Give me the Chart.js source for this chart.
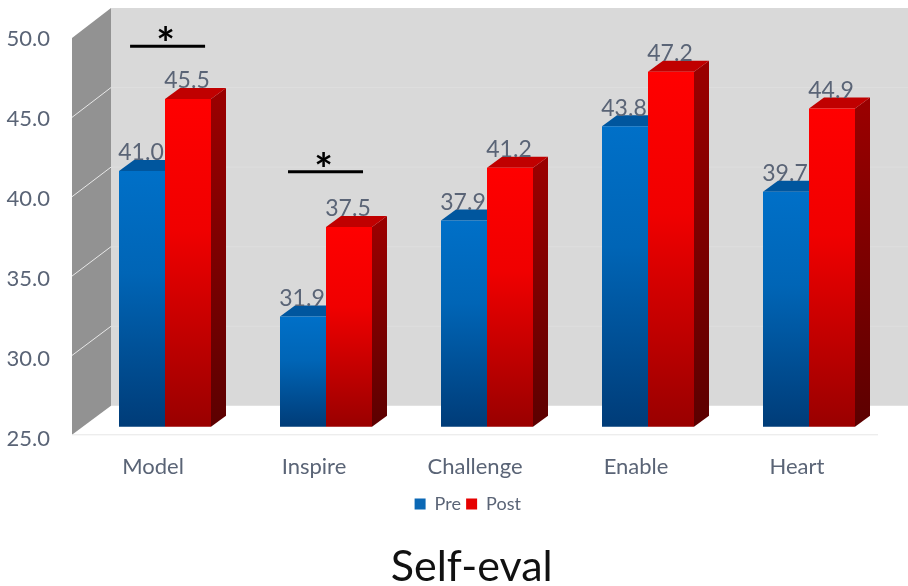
<!DOCTYPE html>
<html>
<head>
<meta charset="utf-8">
<title>Self-eval</title>
<style>
  html, body { margin: 0; padding: 0; background: #fff; }
  canvas { display: block; }
</style>
<script src="https://cdn.jsdelivr.net/npm/chart.js@4"></script>
</head>
<body>
<canvas id="selfEval" width="908" height="586"></canvas>
<script>
const categories = ["Model", "Inspire", "Challenge", "Enable", "Heart"];
const preValues = [41.0, 31.9, 37.9, 43.8, 39.7];
const postValues = [45.5, 37.5, 41.2, 47.2, 44.9];
const yTicks = [25, 30, 35, 40, 45, 50];
// significance markers: position along the category axis and height on the value axis
const sigPositions = [0.016, 0.997];
const sigLevels = [48.8, 40.95];

const textColor = "#5a6476";
const fontName = "Lato, 'Open Sans', sans-serif";

// depth of the bars and of the chart box
const barDx = 15, barDy = 11;
const wallFrontX = 72, wallBackX = 111;

const colors = {
  pre: { legend: "#0b68b5", top: "#00569e", front: ["#0070c8", "#0065b6", "#003c78"], side: "#00487f", sideEnd: "#002a55" },
  post: { legend: "#e60000", top: "#c00000", front: ["#ff0000", "#f00000", "#990000"], side: "#990000", sideEnd: "#5c0000" },
};

function barFill(palette) {
  return function (ctx) {
    const y = ctx.chart.scales.y;
    // first pass runs before layout, there is no pixel to start a gradient from yet
    if (ctx.type !== "data" || !y) return palette.legend;
    const top = y.getPixelForValue(ctx.raw);
    if (!isFinite(top) || !isFinite(y.bottom)) return palette.legend;
    const g = ctx.chart.ctx.createLinearGradient(0, top, 0, y.bottom);
    g.addColorStop(0, palette.front[0]);
    g.addColorStop(0.4, palette.front[1]);
    g.addColorStop(1, palette.front[2]);
    return g;
  };
}

function poly(ctx, pts, fill) {
  ctx.beginPath();
  pts.forEach((p, i) => (i ? ctx.lineTo(p[0], p[1]) : ctx.moveTo(p[0], p[1])));
  ctx.closePath();
  ctx.fillStyle = fill;
  ctx.fill();
}

// walls sit a little off the value scale: front plane lower, back plane higher
function frontY(y, p) {
  return p + 8 + (3 * (y.bottom - p)) / (y.bottom - y.top);
}
function backY(y, p) {
  return p - 21 + (2 * (y.bottom - p)) / (y.bottom - y.top);
}

const boxPlugin = {
  id: "box3d",
  afterLayout(chart) {
    // legend and title are centred on the plot floor, not on the canvas
    chart.legend.left += 23;
    chart.legend.right += 23;
    chart.legend.top += 4;
    chart.legend.bottom += 4;
    chart.titleBlock.left += 27;
    chart.titleBlock.right += 27;
  },
  beforeDatasetsDraw(chart) {
    const { ctx, width, scales: { y } } = chart;
    const pBottom = y.getPixelForValue(yTicks[0]);
    const pTop = y.getPixelForValue(yTicks[yTicks.length - 1]);
    ctx.save();
    // back wall
    poly(ctx, [[wallBackX, backY(y, pTop)], [width, backY(y, pTop)], [width, backY(y, pBottom)], [wallBackX, backY(y, pBottom)]], "#d9d9d9");
    // left wall
    poly(ctx, [[wallFrontX, frontY(y, pTop)], [wallBackX, backY(y, pTop)], [wallBackX, backY(y, pBottom)], [wallFrontX, frontY(y, pBottom)]], "#929292");
    // grid lines run along both walls
    ctx.lineWidth = 1;
    yTicks.slice(1, -1).forEach((v) => {
      const p = y.getPixelForValue(v);
      ctx.strokeStyle = "#dedede";
      ctx.beginPath();
      ctx.moveTo(wallBackX, backY(y, p));
      ctx.lineTo(width, backY(y, p));
      ctx.stroke();
      ctx.strokeStyle = "#e8e8e8";
      ctx.beginPath();
      ctx.moveTo(wallFrontX, frontY(y, p));
      ctx.lineTo(wallBackX, backY(y, p));
      ctx.stroke();
    });
    // floor front edge
    ctx.strokeStyle = "#e6e6e6";
    ctx.beginPath();
    ctx.moveTo(wallFrontX, frontY(y, pBottom));
    ctx.lineTo(878, frontY(y, pBottom));
    ctx.stroke();
    ctx.restore();
  },
  beforeDatasetDraw(chart, args) {
    const { ctx, scales: { y } } = chart;
    const isPre = args.index === 0;
    const palette = isPre ? colors.pre : colors.post;
    const floor = y.bottom;
    ctx.save();
    chart.getDatasetMeta(args.index).data.forEach((bar) => {
      const left = bar.x - bar.width / 2, right = bar.x + bar.width / 2;
      // Post draws first, so the Pre side face would land on top of it
      if (!isPre) {
        const side = ctx.createLinearGradient(0, bar.y, 0, floor);
        side.addColorStop(0, palette.side);
        side.addColorStop(1, palette.sideEnd);
        poly(ctx, [[right, bar.y], [right + barDx, bar.y - barDy], [right + barDx, floor - barDy], [right, floor]], side);
      }
      const topRight = isPre ? right : right + barDx;
      poly(ctx, [[left, bar.y], [left + barDx, bar.y - barDy], [topRight, bar.y - barDy], [right, bar.y]], palette.top);
    });
    ctx.restore();
  },
  afterDatasetDraw(chart, args) {
    const { ctx, chartArea } = chart;
    const isPre = args.index === 0;
    const values = chart.data.datasets[args.index].data;
    ctx.fillStyle = textColor;
    ctx.font = "23px " + fontName;
    ctx.textAlign = "center";
    ctx.textBaseline = "middle";
    chart.getDatasetMeta(args.index).data.forEach((bar, i) => {
      ctx.save();
      if (isPre) {
        // the neighbouring Post bar hides the end of the label
        ctx.beginPath();
        ctx.rect(chartArea.left, 0, bar.x + bar.width / 2 - chartArea.left, chart.height);
        ctx.clip();
      }
      ctx.fillText(values[i].toFixed(1), bar.x - 1, bar.y - 18);
      ctx.restore();
    });
  },
  afterDatasetsDraw(chart) {
    const { ctx, scales: { x, y } } = chart;
    ctx.save();
    sigPositions.forEach((pos, i) => {
      const cx = x.getPixelForValue(pos);
      const py = y.getPixelForValue(sigLevels[i]);
      ctx.strokeStyle = "#000";
      ctx.lineWidth = 3;
      ctx.beginPath();
      ctx.moveTo(cx - 37.5, py);
      ctx.lineTo(cx + 37.5, py);
      ctx.stroke();
      ctx.fillStyle = "#000";
      ctx.font = "bold 44px " + fontName;
      ctx.textAlign = "center";
      ctx.textBaseline = "middle";
      ctx.fillText("*", cx - 2, py - 1);
    });
    ctx.restore();
  },
};

new Chart(document.getElementById("selfEval"), {
  type: "bar",
  data: {
    labels: categories,
    datasets: [
      { label: "Pre", data: preValues, backgroundColor: barFill(colors.pre) },
      { label: "Post", data: postValues, backgroundColor: barFill(colors.post) },
    ],
  },
  plugins: [boxPlugin],
  options: {
    responsive: false,
    animation: false,
    events: [],
    layout: { padding: { left: 0, right: 18.5, top: 27, bottom: 0 } },
    datasets: { bar: { categoryPercentage: 92 / 161, barPercentage: 1, borderWidth: 0 } },
    scales: {
      x: {
        grid: { display: false },
        border: { display: false },
        ticks: {
          color: textColor,
          font: { family: fontName, size: 22 },
          padding: 19,
          labelOffset: -12,
          maxRotation: 0,
        },
        afterFit(scale) { scale.height = 59; },
      },
      y: {
        min: yTicks[0],
        max: yTicks[yTicks.length - 1],
        grid: { display: false },
        border: { display: false },
        afterBuildTicks(scale) { scale.ticks = yTicks.map((v) => ({ value: v })); },
        ticks: {
          color: textColor,
          font: { family: fontName, size: 22 },
          padding: 26.5,
          labelOffset: 12,
          callback: (v) => Number(v).toFixed(1),
        },
        afterFit(scale) {
          scale.width = 84.5;
          scale.paddingTop = 0;
          scale.paddingBottom = 0;
        },
      },
    },
    plugins: {
      tooltip: { enabled: false },
      legend: {
        position: "bottom",
        labels: {
          boxWidth: 11,
          boxHeight: 11,
          padding: 5.2,
          color: textColor,
          font: { family: fontName, size: 18 },
          // bars use gradients per value, the legend keys stay flat
          generateLabels(chart) {
            const items = Chart.defaults.plugins.legend.labels.generateLabels(chart);
            items[0].fillStyle = colors.pre.legend;
            items[1].fillStyle = colors.post.legend;
            return items;
          },
        },
      },
      title: {
        display: true,
        position: "bottom",
        text: "Self-eval",
        color: "#111",
        font: { family: fontName, size: 43, weight: "normal", lineHeight: 1 },
        padding: { top: 26.5, bottom: -2.5 },
      },
    },
  },
});
</script>
</body>
</html>
